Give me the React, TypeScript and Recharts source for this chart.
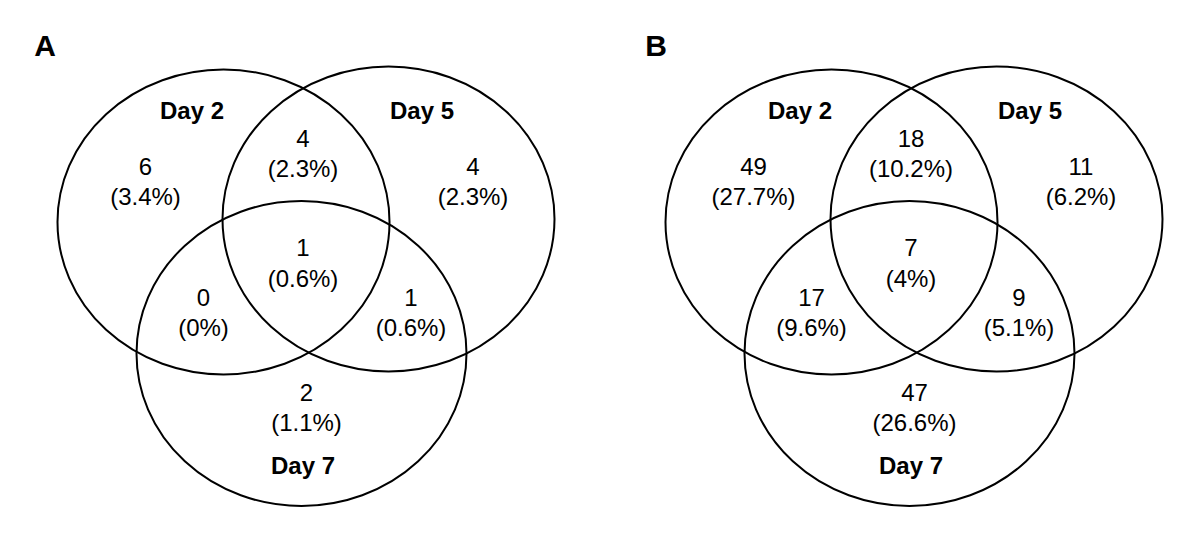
import React from "react";
import { ScatterChart, Scatter, XAxis, YAxis } from "recharts";

// ---------- data ----------
const panelLetters = ["A", "B"];
const setNames = ["Day 2", "Day 5", "Day 7"];
const regionNames = [
  "Day 2 only",
  "Day 2 ∩ Day 5",
  "Day 5 only",
  "Day 2 ∩ Day 7",
  "Day 2 ∩ Day 5 ∩ Day 7",
  "Day 5 ∩ Day 7",
  "Day 7 only",
];
const countsA = [6, 4, 4, 0, 1, 1, 2];
const percentsA = ["3.4%", "2.3%", "2.3%", "0%", "0.6%", "0.6%", "1.1%"];
const countsB = [49, 18, 11, 17, 7, 9, 47];
const percentsB = ["27.7%", "10.2%", "6.2%", "9.6%", "4%", "5.1%", "26.6%"];

// ---------- layout (chart units, 1 unit = 1 px) ----------
const W = 1200;
const H = 545;
const panelOffsetX = [0, 608];
const panelLetterPos = [
  [45, 45],
  [656, 45],
];
const setEllipses = [
  { x: 223.5, y: 222, rx: 166, ry: 152.5 },
  { x: 388.5, y: 219, rx: 166, ry: 152.5 },
  { x: 301.5, y: 353.5, rx: 165, ry: 152.5 },
];
const setLabelPos = [
  [192, 110.5],
  [422, 110.5],
  [303, 465.5],
];
const regionPos = [
  [145.5, 166],
  [303, 138],
  [473, 166],
  [203.5, 297],
  [303, 247.5],
  [411, 297],
  [306.5, 392],
];

const FONT = "'Liberation Sans', Arial, Helvetica, sans-serif";

// ---------- build series ----------
const panelCounts = [countsA, countsB];
const panelPercents = [percentsA, percentsB];

const ellipseData = panelLetters.flatMap((p, pi) =>
  setEllipses.map((e, si) => ({
    panel: p,
    set: setNames[si],
    x: e.x + panelOffsetX[pi],
    y: e.y,
    rx: e.rx,
    ry: e.ry,
  }))
);

const regionData = panelLetters.flatMap((p, pi) =>
  regionNames.map((r, ri) => ({
    panel: p,
    region: r,
    x: regionPos[ri][0] + panelOffsetX[pi],
    y: regionPos[ri][1],
    count: panelCounts[pi][ri],
    pct: panelPercents[pi][ri],
  }))
);

const setLabelData = panelLetters.flatMap((p, pi) =>
  setNames.map((s, si) => ({
    panel: p,
    label: s,
    x: setLabelPos[si][0] + panelOffsetX[pi],
    y: setLabelPos[si][1],
  }))
);

const letterData = panelLetters.map((p, pi) => ({
  label: p,
  x: panelLetterPos[pi][0],
  y: panelLetterPos[pi][1],
}));

// ---------- shapes ----------
const EllipseShape = (props: any) => {
  const { cx, cy, payload } = props;
  if (cx == null || cy == null) return <g />;
  const kx = payload.x ? cx / payload.x : 1;
  const ky = payload.y ? cy / payload.y : 1;
  return (
    <ellipse
      cx={cx}
      cy={cy}
      rx={payload.rx * kx}
      ry={payload.ry * ky}
      fill="none"
      stroke="#000"
      strokeWidth={2}
    />
  );
};

const RegionShape = (props: any) => {
  const { cx, cy, payload } = props;
  if (cx == null || cy == null) return <g />;
  const fs = 24;
  return (
    <g>
      <text
        x={cx}
        y={cy + fs * 0.36}
        textAnchor="middle"
        fontFamily={FONT}
        fontSize={fs}
        fill="#000"
      >
        {String(payload.count)}
      </text>
      <text
        x={cx}
        y={cy + 30.5 + fs * 0.36}
        textAnchor="middle"
        fontFamily={FONT}
        fontSize={fs}
        fill="#000"
      >
        {"(" + payload.pct + ")"}
      </text>
    </g>
  );
};

const SetLabelShape = (props: any) => {
  const { cx, cy, payload } = props;
  if (cx == null || cy == null) return <g />;
  const fs = 24;
  return (
    <text
      x={cx}
      y={cy + fs * 0.36}
      textAnchor="middle"
      fontFamily={FONT}
      fontSize={fs}
      fontWeight="bold"
      fill="#000"
    >
      {payload.label}
    </text>
  );
};

const LetterShape = (props: any) => {
  const { cx, cy, payload } = props;
  if (cx == null || cy == null) return <g />;
  const fs = 30;
  return (
    <text
      x={cx}
      y={cy + fs * 0.36}
      textAnchor="middle"
      fontFamily={FONT}
      fontSize={fs}
      fontWeight="bold"
      fill="#000"
    >
      {payload.label}
    </text>
  );
};

export default function App() {
  return (
    <div style={{ position: "absolute", left: 0, top: 0, width: W, height: H, background: "#fff" }}>
      <ScatterChart width={W} height={H} margin={{ top: 0, right: 0, bottom: 0, left: 0 }}>
        <XAxis type="number" dataKey="x" domain={[0, W]} hide allowDataOverflow />
        <YAxis type="number" dataKey="y" domain={[0, H]} reversed hide allowDataOverflow />
        <Scatter data={ellipseData} shape={EllipseShape} isAnimationActive={false} />
        <Scatter data={regionData} shape={RegionShape} isAnimationActive={false} />
        <Scatter data={setLabelData} shape={SetLabelShape} isAnimationActive={false} />
        <Scatter data={letterData} shape={LetterShape} isAnimationActive={false} />
      </ScatterChart>
    </div>
  );
}
